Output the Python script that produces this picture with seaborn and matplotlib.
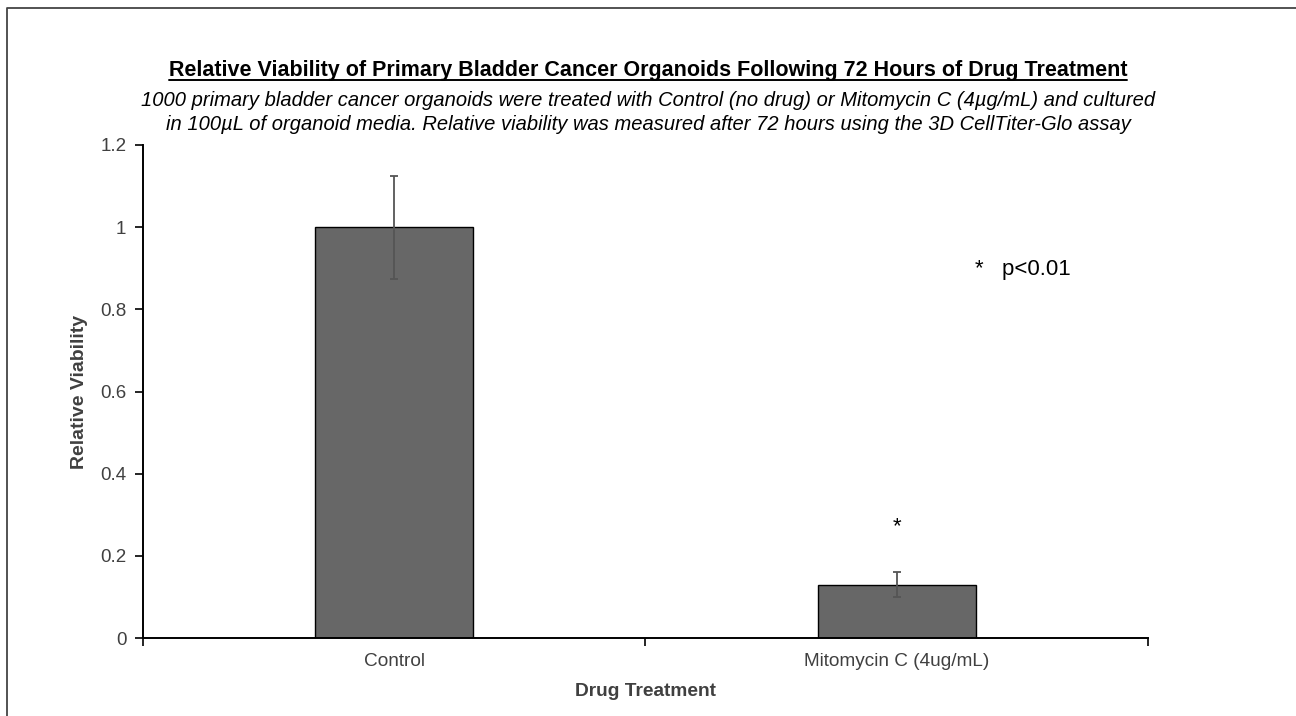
import matplotlib
matplotlib.use("Agg")
import matplotlib.pyplot as plt
import seaborn as sns
import numpy as np
import pandas as pd

categories = ["Control", "Mitomycin C (4ug/mL)"]
viability = [1.0, 0.13]
errors = [0.125, 0.03]
y_ticks = [0, 0.2, 0.4, 0.6, 0.8, 1, 1.2]
y_tick_labels = ["0", "0.2", "0.4", "0.6", "0.8", "1", "1.2"]

title = "Relative Viability of Primary Bladder Cancer Organoids Following 72 Hours of Drug Treatment"
subtitle = ("1000 primary bladder cancer organoids were treated with Control (no drug) or Mitomycin C (4\u00b5g/mL) and cultured\n"
            "in 100\u00b5L of organoid media. Relative viability was measured after 72 hours using the 3D CellTiter-Glo assay")

sns.set_theme(style="white")
plt.rcParams['font.family'] = ['Liberation Sans', 'DejaVu Sans']

df = pd.DataFrame({"Drug Treatment": categories, "Relative Viability": viability})

fig = plt.figure(figsize=(12.96, 7.16), dpi=100)
ax = fig.add_axes([0.1103, 0.1089, 0.7755, 0.6886])

sns.barplot(data=df, x="Drug Treatment", y="Relative Viability", color="#676767",
            saturation=1, width=0.314, edgecolor="black", linewidth=1.0, ax=ax, errorbar=None)
pos = np.arange(len(categories))
ax.errorbar(pos, viability, yerr=errors, fmt="none", ecolor="#555555",
            elinewidth=1.3, capsize=3, capthick=1.3, zorder=5)

ax.set_xlim(-0.5, len(categories) - 0.5)
ax.set_ylim(0, 1.2)
ax.set_yticks(y_ticks)
ax.set_yticklabels(y_tick_labels)
ax.set_xticks(np.arange(len(categories) + 1) - 0.5)
ax.set_xticklabels([])
ax.set_xticks(pos, minor=True)
ax.set_xticklabels(categories, minor=True)
ax.tick_params(axis="x", which="major", direction="out", length=6, width=1.2, color="black", bottom=True)
ax.tick_params(axis="x", which="minor", length=0, pad=11, labelsize=13.7, labelcolor="#404040")
ax.tick_params(axis="y", direction="out", length=6, width=1.2, color="black", left=True,
               labelsize=13.5, labelcolor="#404040", pad=6)

for s in ["top", "right"]:
    ax.spines[s].set_visible(False)
for s in ["left", "bottom"]:
    ax.spines[s].set_color("black")
    ax.spines[s].set_linewidth(1.4)

ax.set_xlabel("Drug Treatment", fontsize=13.8, fontweight="bold", color="#404040", labelpad=9)
ax.set_ylabel("Relative Viability", fontsize=14, fontweight="bold", color="#404040", labelpad=9)

# significance annotations
ax.text(1, 0.272, "*", ha="center", va="center", fontsize=16, color="black")
ax.text(1.156, 0.898, "*   p<0.01", ha="left", va="center", fontsize=16, color="black")

# title with underline
t = fig.text(0.5, 0.901, title, ha="center", va="center", fontsize=15.5, fontweight="bold", color="black")
fig.text(0.5, 0.843, subtitle, ha="center", va="center", fontsize=14.5, style="italic",
         color="black", linespacing=1.3)
fig.canvas.draw()
bb = t.get_window_extent(renderer=fig.canvas.get_renderer()).transformed(fig.transFigure.inverted())
fig.add_artist(plt.Line2D([bb.x0, bb.x1], [bb.y0 + 0.002, bb.y0 + 0.002], transform=fig.transFigure,
                          color="black", linewidth=1.4))

# figure border (top and left)
fig.add_artist(plt.Line2D([0.0055, 0.0055, 1.0], [0.0, 0.989, 0.989], transform=fig.transFigure,
                          color="#444444", linewidth=1.3))

fig.savefig("out.png", dpi=100, facecolor="white")
